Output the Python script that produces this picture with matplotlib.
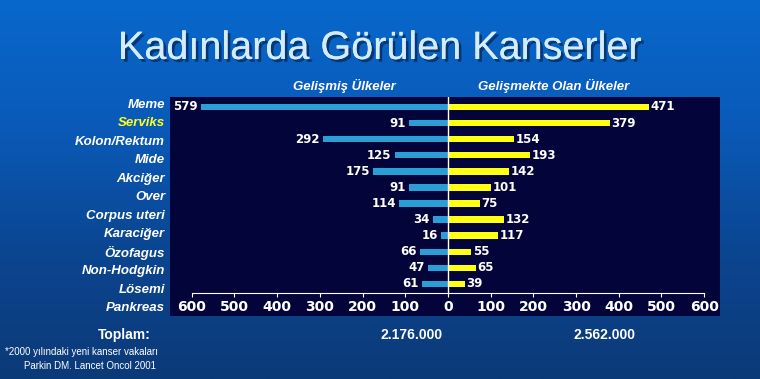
import numpy as np
import matplotlib.pyplot as plt
import matplotlib.patheffects as pe
from matplotlib.colors import LinearSegmentedColormap

# --- data ---
categories = ['Meme', 'Serviks', 'Kolon/Rektum', 'Mide', 'Akciğer', 'Over',
              'Corpus uteri', 'Karaciğer', 'Özofagus', 'Non-Hodgkin', 'Lösemi', 'Pankreas']
developed = [579, 91, 292, 125, 175, 91, 114, 34, 16, 66, 47, 61]
developing = [471, 379, 154, 193, 142, 101, 75, 132, 117, 55, 65, 39]
ticks = [-600, -500, -400, -300, -200, -100, 0, 100, 200, 300, 400, 500, 600]
total_labels = ['2.176.000', '2.562.000']

W, H = 760, 379
fig = plt.figure(figsize=(W / 100, H / 100), dpi=100)

# --- background gradient ---
bg = fig.add_axes([0, 0, 1, 1])
grad = np.linspace(0, 1, 256).reshape(-1, 1)
cmap = LinearSegmentedColormap.from_list('bg', ['#0868cc', '#0a5ab8', '#0b4590', '#0c3a78'])
bg.imshow(grad, aspect='auto', cmap=cmap, extent=[0, 1, 0, 1], origin='upper')
bg.set_xlim(0, 1)
bg.set_ylim(0, 1)
bg.axis('off')

# --- title ---
fig.text(0.5, 1 - 48 / H, 'Kadınlarda Görülen Kanserler', ha='center', va='center',
         fontsize=28.5, family='Liberation Sans', color='#d4ecff',
         path_effects=[pe.withSimplePatchShadow(offset=(2, -2), shadow_rgbFace='#06244f', alpha=0.7),
                       pe.Normal()])

fig.text(344 / W, 1 - 86 / H, 'Gelişmiş Ülkeler', ha='center', va='center', fontsize=9.5,
         family='Liberation Sans', weight='bold', style='italic', color='white')
fig.text(554 / W, 1 - 86 / H, 'Gelişmekte Olan Ülkeler', ha='center', va='center', fontsize=9.5,
         family='Liberation Sans', weight='bold', style='italic', color='white')

# --- main chart ---
ax = fig.add_axes([170 / W, 1 - 316 / H, 550 / W, 219 / H])
ax.set_facecolor('#03053a')
y = np.arange(len(categories))
ax.barh(y, [-v for v in developed], height=0.4, color='#2a9fd6')
ax.barh(y, developing, height=0.4, color='#ffff10')
for yi, v in zip(y, developed):
    ax.text(-v - 8, yi, str(v), ha='right', va='center', color='white',
            fontsize=8.5, weight='bold')
for yi, v in zip(y, developing):
    ax.text(v + 4, yi, str(v), ha='left', va='center', color='white',
            fontsize=8.5, weight='bold')

ax.set_xlim(-651, 637)
ax.set_ylim(12.99, -0.62)
ax.axvline(0, ymin=(12.99 - 11.56) / 13.61, ymax=1, color='white', lw=1)

for s in ['top', 'left', 'right']:
    ax.spines[s].set_visible(False)
ax.spines['bottom'].set_position(('data', 11.56))
ax.spines['bottom'].set_bounds(-600, 600)
ax.spines['bottom'].set_color('white')
ax.set_xticks(ticks)
ax.set_xticklabels([str(abs(t)) for t in ticks])
ax.tick_params(axis='x', colors='white', labelsize=10, length=3, pad=2)
for lbl in ax.get_xticklabels():
    lbl.set_fontweight('bold')
ax.set_yticks([])

# --- category labels (own axis) ---
lab = fig.add_axes([0, 1 - 317 / H, 165 / W, 221 / H])
lab.set_ylim(11.488, -0.488)
lab.set_xlim(0, 1)
lab.axis('off')
for i, c in enumerate(categories):
    lab.text(1, i, c, ha='right', va='center', fontsize=9.5, weight='bold', style='italic',
             family='Liberation Sans', color='#ffff20' if c == 'Serviks' else 'white')

# --- totals and notes ---
fig.text(124 / W, 1 - 335 / H, 'Toplam:', ha='center', va='center', fontsize=10,
         weight='bold', family='Liberation Sans', color='white')
for xc, t in zip([412, 605], total_labels):
    fig.text(xc / W, 1 - 335 / H, t, ha='center', va='center', fontsize=10,
             weight='bold', family='Liberation Sans', color='white')
fig.text(5 / W, 1 - 352 / H, '*2000 yılındaki yeni kanser vakaları', ha='left', va='center',
         fontsize=7, family='Liberation Sans', color='white')
fig.text(24 / W, 1 - 366 / H, 'Parkin DM. Lancet Oncol 2001', ha='left', va='center',
         fontsize=7, family='Liberation Sans', color='white')

fig.savefig('out.png', dpi=100)
